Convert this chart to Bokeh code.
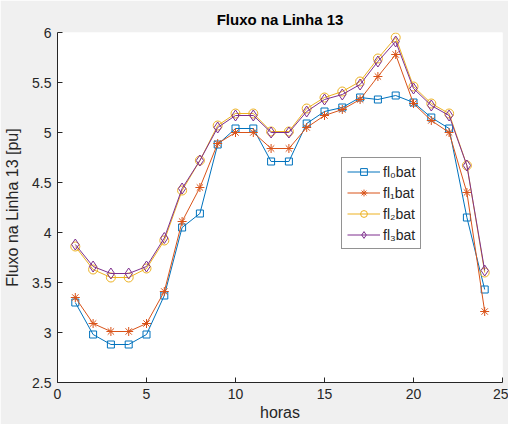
from bokeh.plotting import figure
from bokeh.models import Legend, LegendItem, NumeralTickFormatter, FixedTicker, Range1d
from bokeh.embed import file_html
from bokeh.resources import INLINE

horas = list(range(1, 25))
fl0 = [3.30, 2.98, 2.88, 2.88, 2.98, 3.37, 4.05, 4.19, 4.88, 5.04, 5.04, 4.71,
       4.71, 5.09, 5.21, 5.25, 5.35, 5.33, 5.37, 5.30, 5.15, 5.04, 4.15, 3.43]
fl1 = [3.35, 3.09, 3.01, 3.01, 3.09, 3.41, 4.11, 4.45, 4.89, 5.00, 5.00, 4.84,
       4.84, 5.05, 5.17, 5.23, 5.33, 5.56, 5.78, 5.29, 5.12, 5.00, 4.40, 3.21]
fl2 = [3.86, 3.63, 3.55, 3.55, 3.64, 3.92, 4.42, 4.72, 5.07, 5.19, 5.19, 5.01,
       5.01, 5.24, 5.35, 5.41, 5.51, 5.74, 5.95, 5.46, 5.29, 5.19, 4.67, 3.60]
fl3 = [3.88, 3.66, 3.59, 3.59, 3.66, 3.945, 4.44, 4.72, 5.05, 5.17, 5.17, 5.00,
       5.00, 5.21, 5.33, 5.38, 5.48, 5.71, 5.91, 5.44, 5.27, 5.17, 4.67, 3.62]
labels = ["fl\u2080bat", "fl\u2081bat", "fl\u2082bat", "fl\u2083bat"]
colors = ["#0072BD", "#D95319", "#EDB120", "#7E2F8E"]
markers = ["square", "asterisk", "circle", "diamond"]
msizes = [7, 9, 9, 11]
x_ticks = [0, 5, 10, 15, 20, 25]
y_ticks = [2.5, 3, 3.5, 4, 4.5, 5, 5.5, 6]

FONT = "Liberation Sans"
TXT = "#262626"

p = figure(width=508, height=424, output_backend="svg", toolbar_location=None,
           x_range=Range1d(0, 25), y_range=Range1d(2.5, 6),
           title="Fluxo na Linha 13",
           min_border_left=57, min_border_right=6, min_border_top=32, min_border_bottom=42)
p.background_fill_color = "white"
p.border_fill_color = "#f0f0f0"
p.outline_line_color = None
p.grid.visible = False

p.title.align = "center"
p.title.text_font = FONT
p.title.text_font_size = "15px"
p.title.text_font_style = "bold"
p.title.text_color = "black"
p.title.offset = 20

for ax in (p.xaxis[0], p.yaxis[0]):
    ax.axis_line_color = TXT
    ax.major_tick_line_color = TXT
    ax.major_tick_in = 5
    ax.major_tick_out = 0
    ax.minor_tick_line_color = None
    ax.major_label_text_font = FONT
    ax.major_label_text_font_size = "14px"
    ax.major_label_text_color = TXT
    ax.axis_label_text_font = FONT
    ax.axis_label_text_font_size = "16px"
    ax.axis_label_text_font_style = "normal"
    ax.axis_label_text_color = TXT

p.xaxis.ticker = FixedTicker(ticks=x_ticks)
p.yaxis.ticker = FixedTicker(ticks=y_ticks)
p.yaxis.formatter = NumeralTickFormatter(format="0.[0]")
p.xaxis.axis_label = "horas"
p.yaxis.axis_label = "Fluxo na Linha 13 [pu]"
p.xaxis.axis_label_standoff = 2
p.yaxis.axis_label_standoff = 8
p.xaxis.major_label_standoff = 6
p.yaxis.major_label_standoff = 6

items = []
for ys, lab, c, m, s in zip([fl0, fl1, fl2, fl3], labels, colors, markers, msizes):
    r1 = p.line(horas, ys, line_color=c, line_width=1)
    r2 = p.scatter(horas, ys, marker=m, size=s, line_color=c, fill_color=None, line_width=1)
    items.append(LegendItem(label=lab, renderers=[r1, r2]))

legend = Legend(items=items, location=(284, 133))
legend.border_line_color = "#262626"
legend.border_line_width = 1
legend.background_fill_color = "white"
legend.background_fill_alpha = 1
legend.label_text_font = FONT
legend.label_text_font_size = "14px"
legend.label_text_color = TXT
legend.glyph_width = 33
legend.glyph_height = 17
legend.label_height = 17
legend.label_standoff = 3
legend.spacing = 4
legend.padding = 5
legend.margin = 0
p.add_layout(legend, "center")

open("out.html", "w").write(file_html(p, INLINE))
